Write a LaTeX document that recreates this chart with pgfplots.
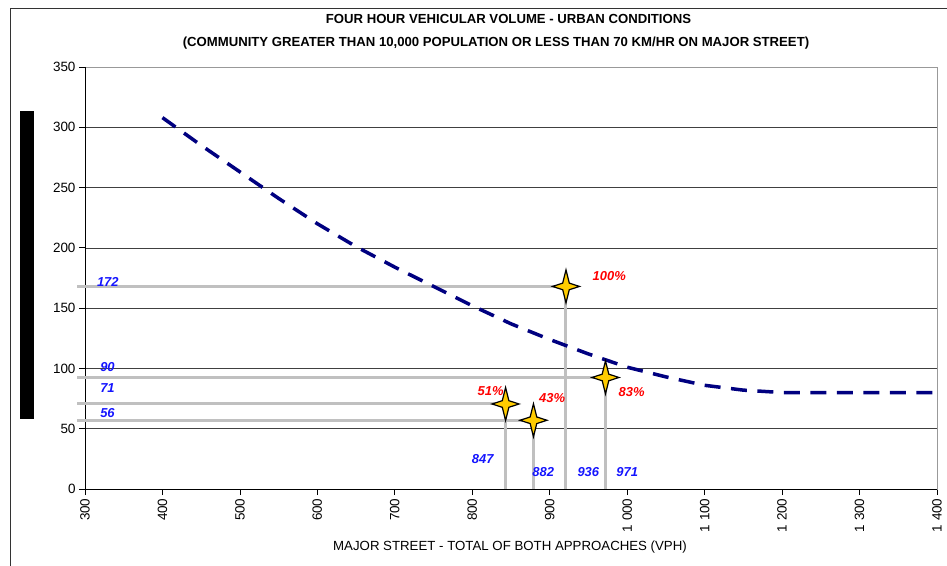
\documentclass[border=0pt]{standalone}
\usepackage{pgfplots}
\pgfplotsset{compat=1.18}
\usepackage{fontspec}
\setmainfont{Liberation Sans}
\definecolor{navyline}{RGB}{0,0,128}
\definecolor{silv}{RGB}{192,192,192}
\definecolor{staryellow}{RGB}{255,204,0}
\definecolor{lblue}{RGB}{20,20,255}
\definecolor{lred}{RGB}{255,0,0}
\pgfdeclareplotmark{fourstar}{%
  \pgfpathmoveto{\pgfpoint{0bp}{16.5bp}}%
  \pgfpathlineto{\pgfpoint{3.3bp}{3.3bp}}%
  \pgfpathlineto{\pgfpoint{13.5bp}{0bp}}%
  \pgfpathlineto{\pgfpoint{3.3bp}{-3.3bp}}%
  \pgfpathlineto{\pgfpoint{0bp}{-16.5bp}}%
  \pgfpathlineto{\pgfpoint{-3.3bp}{-3.3bp}}%
  \pgfpathlineto{\pgfpoint{-13.5bp}{0bp}}%
  \pgfpathlineto{\pgfpoint{-3.3bp}{3.3bp}}%
  \pgfpathclose
  \pgfusepathqfillstroke}
\begin{document}
\begin{tikzpicture}
\path[use as bounding box] (-85bp,-77bp) rectangle (862bp,489bp);
% outer frame
\draw[black!80, line width=0.8bp] (-75bp,-77bp) -- (-75bp,481bp) -- (862bp,481bp);
% black bar
\fill[black] (-65bp,70bp) rectangle (-51bp,378bp);
\begin{axis}[
  at={(0,0)}, anchor=south west,
  scale only axis, width=852bp, height=422bp,
  xmin=300, xmax=1400, ymin=0, ymax=350,
  xtick={300,400,...,1400},
  xticklabels={300,400,500,600,700,800,900,{1 000},{1 100},{1 200},{1 300},{1 400}},
  ytick={0,50,...,350},
  /pgf/number format/assume math mode=true,
  xtick pos=left, ytick pos=left,
  tick align=outside,
  major tick length=6bp,
  tick style={black, line width=0.8bp},
  ymajorgrids,
  grid style={black!75, line width=0.7bp},
  axis line style={black!40, line width=0.8bp},
  x tick label style={rotate=90, anchor=east, font=\fontsize{13.5}{13.5}\selectfont},
  y tick label style={font=\fontsize{13.5}{13.5}\selectfont},
  clip=false,
]
\draw[black, line width=0.9bp] (rel axis cs:0,1) -- (rel axis cs:0,0) -- (rel axis cs:1,0);
% grey reference lines
\addplot[silv, line width=3bp, forget plot] coordinates {(290,168) (921,168)};
\addplot[silv, line width=3bp, forget plot] coordinates {(921,168) (921,0)};
\addplot[silv, line width=3bp, forget plot] coordinates {(290,92.5) (972,92.5)};
\addplot[silv, line width=3bp, forget plot] coordinates {(972,92.5) (972,0)};
\addplot[silv, line width=3bp, forget plot] coordinates {(290,70.5) (843,70.5)};
\addplot[silv, line width=3bp, forget plot] coordinates {(843,70.5) (843,0)};
\addplot[silv, line width=3bp, forget plot] coordinates {(290,57) (879,57)};
\addplot[silv, line width=3bp, forget plot] coordinates {(879,57) (879,0)};
% warrant curve
\addplot[navyline, line width=3.5bp, dash pattern=on 16bp off 10.5bp] coordinates {
(400,308) (450,285) (500,263) (550,241) (600,220) (650,201) (700,184) (750,168)
(800,152) (850,137) (900,124) (950,112) (1000,101) (1050,93) (1100,86) (1150,82)
(1200,80) (1300,80) (1400,80)};
% stars
\addplot[only marks, mark=fourstar, draw=black, fill=staryellow, line width=1.2bp] coordinates {
(921,168) (972,92.5) (843,70.5) (879,57)};
% value labels
\begin{scope}[every node/.style={font=\bfseries\itshape\fontsize{13}{13}\selectfont}]
\node[text=lblue] at (axis cs:329.5,171.7) {172};
\node[text=lblue] at (axis cs:329,101.4) {90};
\node[text=lblue] at (axis cs:329,83.5) {71};
\node[text=lblue] at (axis cs:329,62.8) {56};
\node[text=lblue] at (axis cs:813.4,24.9) {847};
\node[text=lblue] at (axis cs:891.7,14.1) {882};
\node[text=lblue] at (axis cs:949.8,14.1) {936};
\node[text=lblue] at (axis cs:1000.1,14.1) {971};
\node[text=lred] at (axis cs:976.9,176.7) {100\%};
\node[text=lred] at (axis cs:823.8,81.3) {51\%};
\node[text=lred] at (axis cs:903.1,75.7) {43\%};
\node[text=lred] at (axis cs:1005.7,80.7) {83\%};
\end{scope}
\end{axis}
\node[font=\bfseries\fontsize{13.2}{13.2}\selectfont] at (423.5bp,470bp) {FOUR HOUR VEHICULAR VOLUME - URBAN CONDITIONS};
\node[font=\bfseries\fontsize{13.2}{13.2}\selectfont] at (411bp,446bp) {(COMMUNITY GREATER THAN 10,000 POPULATION OR LESS THAN 70 KM/HR ON MAJOR STREET)};
\node[font=\fontsize{13.3}{13.3}\selectfont] at (425bp,-58bp) {MAJOR STREET - TOTAL OF BOTH APPROACHES (VPH)};
\end{tikzpicture}
\end{document}
